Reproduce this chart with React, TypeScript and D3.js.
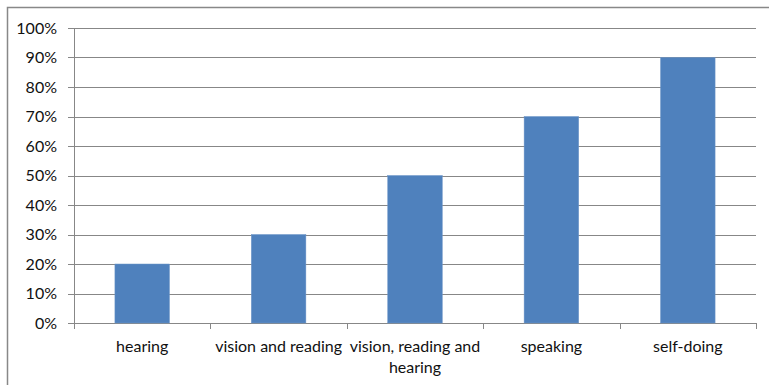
import React from "react";
import * as d3 from "d3";

const categories = ["hearing", "vision and reading", "vision, reading and hearing", "speaking", "self-doing"];
const categoryLines = [["hearing"], ["vision and reading"], ["vision, reading and", "hearing"], ["speaking"], ["self-doing"]];
const values = [0.2, 0.3, 0.5, 0.7, 0.9];
const yTicks = [0, 0.1, 0.2, 0.3, 0.4, 0.5, 0.6, 0.7, 0.8, 0.9, 1.0];

const W = 769;
const H = 385;
const margin = { top: 28, right: 13, bottom: 62, left: 74 };

export default function App() {
  const width = W - margin.left - margin.right;
  const height = H - margin.top - margin.bottom;

  const x = d3.scaleBand().domain(categories).range([0, width]).paddingInner(0.6).paddingOuter(0.3);
  const band = d3.scaleBand().domain(categories).range([0, width]);
  const y = d3.scaleLinear().domain([0, 1]).range([height, 0]);
  const fmt = d3.format(".0%");
  const font = "Lato, 'Open Sans', sans-serif";

  return (
    <svg width={W} height={H} style={{ position: "absolute", left: 0, top: 0 }} fontFamily={font}>
      <rect x={0} y={0} width={W} height={H} fill="#fff" />
      <rect x={7.5} y={7.5} width={W + 10} height={H + 10} fill="none" stroke="#888" strokeWidth={1.5} />
      <g transform={`translate(${margin.left},${margin.top})`}>
        {yTicks.map((t) => (
          <g key={t}>
            <line x1={-6} x2={width} y1={Math.round(y(t)) + 0.5} y2={Math.round(y(t)) + 0.5} stroke="#878787" />
            <text x={-17} y={y(t)} dy="0.35em" textAnchor="end" fontSize={16} fill="#111">
              {fmt(t)}
            </text>
          </g>
        ))}
        {categories.map((c, i) => (
          <rect
            key={c}
            x={x(c)!}
            y={y(values[i])}
            width={x.bandwidth()}
            height={height - y(values[i])}
            fill="#4F81BD"
            stroke="#6E96C8"
            strokeWidth={0.5}
          />
        ))}
        <line x1={0.5} x2={0.5} y1={0} y2={height} stroke="#878787" />
        {[...categories.map((c) => band(c)!), width].map((p, i) => (
          <line key={i} x1={Math.round(p) + 0.5} x2={Math.round(p) + 0.5} y1={height} y2={height + 6} stroke="#878787" />
        ))}
        {categories.map((c, i) => (
          <text key={c} x={band(c)! + band.bandwidth() / 2} y={height + 29} textAnchor="middle" fontSize={16} fill="#111">
            {categoryLines[i].map((l, j) => (
              <tspan key={j} x={band(c)! + band.bandwidth() / 2} dy={j === 0 ? 0 : 21}>
                {l}
              </tspan>
            ))}
          </text>
        ))}
      </g>
    </svg>
  );
}
